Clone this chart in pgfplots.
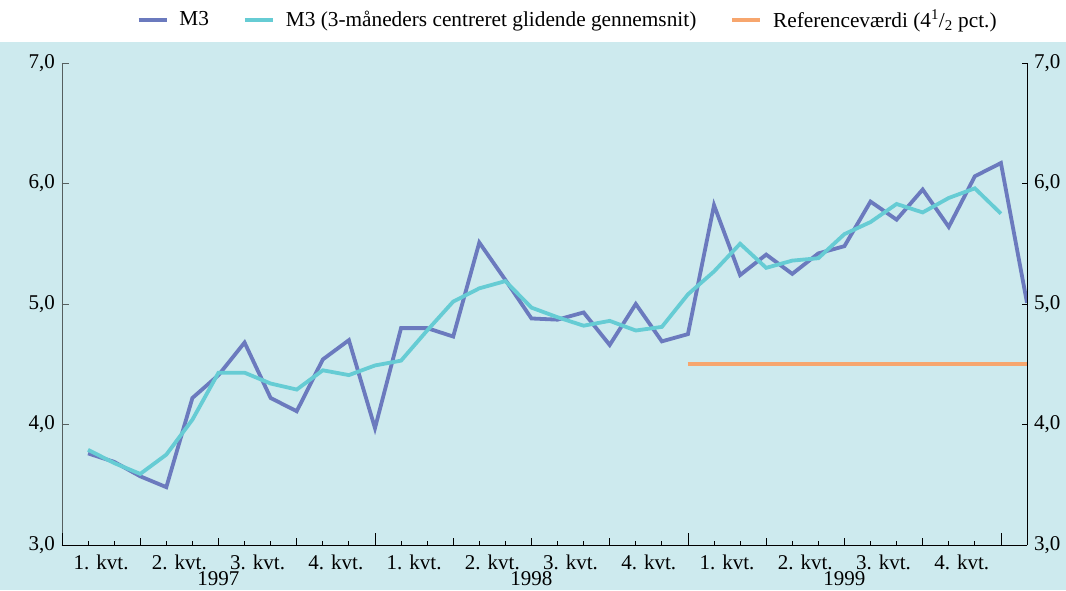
\documentclass[border=0pt]{standalone}
\usepackage{pgfplots}
\pgfplotsset{compat=1.18}
\usepackage{fontspec}
\setmainfont{Liberation Serif}
\definecolor{mthree}{RGB}{107,122,190}
\definecolor{mavg}{RGB}{102,204,212}
\definecolor{mref}{RGB}{247,166,110}
\definecolor{bgblue}{RGB}{205,234,238}
\definecolor{axgray}{RGB}{85,95,95}
\begin{document}
\fontsize{21}{25}\selectfont
\begin{tikzpicture}[x=1pt,y=1pt]
\useasboundingbox (-62,-45) rectangle (1004,545);
\fill[bgblue] (-62,-45) rectangle (1004,503);
\begin{axis}[
  at={(0,0)}, anchor=south west,
  scale only axis, width=965pt, height=482pt,
  xmin=0, xmax=37, ymin=3, ymax=7,
  axis x line*=bottom, axis y line*=left,
  y axis line style={draw=axgray, line width=0.8pt},
  x axis line style={draw=black, line width=0.8pt},
  tick align=inside,
  ytick={3,4,5,6,7},
  ytick style={draw=axgray, line width=0.8pt},
  yticklabel style={/pgf/number format/.cd, fixed, fixed zerofill, precision=1, use comma, assume math mode=true},
  xtick={0,3,...,36},
  xticklabels={},
  x tick style={draw=black, line width=0.8pt},
  minor x tick num=2,
  minor tick length=4pt,
  major tick length=7pt,
  extra x ticks={0,12,24,36},
  extra x tick labels={},
  extra x tick style={major tick length=12pt, draw=black, line width=0.8pt},
  every tick label/.append style={font=\fontsize{21}{25}\selectfont},
  legend style={at={(0.524,1.089)}, anchor=center, draw=none, fill=none,
    legend columns=3, font=\fontsize{21.3}{25}\selectfont,
    /tikz/every odd column/.append style={column sep=9pt},
    /tikz/every even column/.append style={column sep=32pt}},
  legend image code/.code={\draw[#1] (0pt,0pt) -- (28pt,0pt);},
]
\addplot[mthree, line width=3.8pt] coordinates {
(1,3.76) (2,3.69) (3,3.57) (4,3.48) (5,4.22) (6,4.41) (7,4.68) (8,4.22) (9,4.11) (10,4.54)
(11,4.70) (12,3.97) (13,4.80) (14,4.80) (15,4.73) (16,5.51) (17,5.20) (18,4.88) (19,4.87) (20,4.93)
(21,4.66) (22,5.00) (23,4.69) (24,4.75) (25,5.82) (26,5.24) (27,5.41) (28,5.25) (29,5.42) (30,5.48)
(31,5.85) (32,5.70) (33,5.95) (34,5.64) (35,6.06) (36,6.17) (37,5.01)};
\addlegendentry{M3}
\addplot[mavg, line width=3.8pt] coordinates {
(1,3.79) (2,3.68) (3,3.59) (4,3.75) (5,4.04) (6,4.43) (7,4.43) (8,4.34) (9,4.29) (10,4.45)
(11,4.41) (12,4.49) (13,4.53) (14,4.78) (15,5.02) (16,5.13) (17,5.19) (18,4.97) (19,4.89) (20,4.82)
(21,4.86) (22,4.78) (23,4.81) (24,5.08) (25,5.27) (26,5.50) (27,5.30) (28,5.36) (29,5.38) (30,5.58)
(31,5.68) (32,5.83) (33,5.76) (34,5.88) (35,5.96) (36,5.75)};
\addlegendentry{M3 (3-måneders centreret glidende gennemsnit)}
\addplot[mref, line width=3.8pt] coordinates {(24,4.5) (37,4.5)};
\addlegendentry{Referenceværdi (4\textsuperscript{1}/\textsubscript{2} pct.)}
\end{axis}
\begin{axis}[
  at={(0,0)}, anchor=south west,
  scale only axis, width=965pt, height=482pt,
  xmin=0, xmax=37, ymin=3, ymax=7,
  axis x line*=bottom, axis y line*=right,
  y axis line style={draw=black, line width=0.8pt},
  x axis line style={draw=black, line width=0.8pt},
  tick align=inside,
  ytick={3,4,5,6,7},
  ytick style={draw=black, line width=0.8pt},
  major tick length=5pt,
  yticklabel style={/pgf/number format/.cd, fixed, fixed zerofill, precision=1, use comma, assume math mode=true},
  xtick={1.5,4.5,...,34.5},
  xticklabels={1. kvt.,2. kvt.,3. kvt.,4. kvt.,1. kvt.,2. kvt.,3. kvt.,4. kvt.,1. kvt.,2. kvt.,3. kvt.,4. kvt.},
  x tick style={draw=none},
  x tick label style={yshift=-3pt},
  extra x ticks={6,18,30},
  extra x tick labels={1997,1998,1999},
  extra x tick style={draw=none, tick label style={yshift=-16pt}},
  every tick label/.append style={font=\fontsize{21}{25}\selectfont},
]
\end{axis}
\end{tikzpicture}
\end{document}
